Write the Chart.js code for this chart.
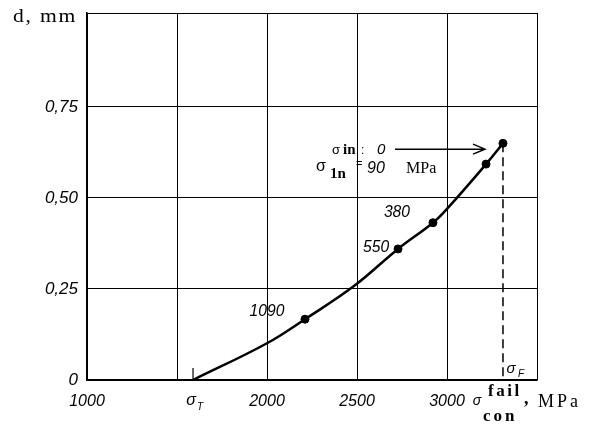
<!DOCTYPE html>
<html>
<head>
<meta charset="utf-8">
<script src="https://cdn.jsdelivr.net/npm/chart.js@4.4.1/dist/chart.umd.min.js"></script>
<style>
  html, body { margin: 0; padding: 0; background: #fff; }
</style>
</head>
<body>
<canvas id="chart" width="591" height="426"></canvas>
<script>
// curve d(sigma)
const curveStress = [1589, 2000, 2211, 2483, 2728, 2922, 3000, 3217, 3311];
const curveD = [0, 0.101, 0.167, 0.258, 0.36, 0.432, 0.47, 0.593, 0.650];

// measured points (dots) and their labels
const pointStress = [2211, 2728, 2922, 3217, 3311];
const pointD = [0.167, 0.36, 0.432, 0.593, 0.650];
const pointLabels = ['1090', '550', '380', '', ''];

// tick labels
const xTickLabels = { 1000: '1000', 2000: '2000', 2500: '2500', 3000: '3000' };
const yTickLabels = { 0: '0', 0.25: '0,25', 0.5: '0,50', 0.75: '0,75' };

const sigmaT = curveStress[0];
const sigmaF = pointStress[pointStress.length - 1];

const serif = '"Liberation Serif", "DejaVu Serif", serif';
const sans = '"Liberation Sans", "DejaVu Sans", sans-serif';

const curve = curveStress.map((x, i) => ({ x: x, y: curveD[i] }));
const dots = pointStress.map((x, i) => ({ x: x, y: pointD[i] }));

// text helper, sx stretches horizontally
function txt(ctx, s, x, y, font, align, sx, spacing) {
    ctx.save();
    ctx.font = font;
    ctx.textAlign = align || 'left';
    ctx.textBaseline = 'alphabetic';
    ctx.letterSpacing = (spacing || 0) + 'px';
    ctx.translate(x, y);
    ctx.scale(sx || 1, 1);
    ctx.fillText(s, 0, 0);
    ctx.restore();
}

// where the point labels sit (in data units)
const labelPos = [[2000, 0.191], [2606, 0.369], [2722, 0.464]];

const annotations = {
    id: 'annotations',
    afterDraw(chart) {
        const ctx = chart.ctx;
        const xs = chart.scales.x, ys = chart.scales.y;
        const X = v => xs.getPixelForValue(v);
        const Y = v => ys.getPixelForValue(v);
        ctx.save();
        ctx.fillStyle = '#000';
        ctx.strokeStyle = '#000';

        // y axis title
        txt(ctx, 'd, mm', 13, 22, '18px ' + serif, 'left', 1.2, 1.5);

        // sigma_T under the start of the curve
        txt(ctx, 'σ', X(sigmaT) - 2, 405, 'italic 16px ' + sans, 'center');
        txt(ctx, 'T', X(sigmaT) + 7, 410, 'italic 10px ' + sans, 'center');

        // sigma_F next to the dashed line
        txt(ctx, 'σ', X(sigmaF) + 8, 373, 'italic 15px ' + sans, 'center');
        txt(ctx, 'F', X(sigmaF) + 18, 377, 'italic 10px ' + sans, 'center');

        // x axis title
        txt(ctx, 'σ', xs.right - 60, 405, 'italic 14px ' + sans, 'center');
        txt(ctx, 'fail', xs.right - 49, 396, 'bold 17px ' + serif, 'left', 1, 2.5);
        txt(ctx, 'con', xs.right - 54, 421, 'bold 17px ' + serif, 'left', 1, 3);
        txt(ctx, ',', xs.right - 13, 404, 'bold 18px ' + serif, 'left');
        txt(ctx, 'MPa', xs.right + 1, 407, '18px ' + serif, 'left', 1, 3);

        // labels next to the points
        pointLabels.forEach((s, i) => {
            if (!s) return;
            const p = labelPos[i];
            txt(ctx, s, X(p[0]), Y(p[1]) + 6, 'italic 17px ' + sans, 'center', 0.92);
        });

        // sigma_in = 0 with arrow to the last point
        const ay = Y(0.634);
        txt(ctx, 'σ', 336, ay + 5, '13px ' + sans, 'center');
        txt(ctx, 'in', 343, ay + 5, 'bold 15px ' + serif, 'left');
        txt(ctx, ':', 361, ay + 5, '12px ' + sans, 'left');
        txt(ctx, '0', 377, ay + 5, 'italic 15px ' + sans, 'left');
        ctx.lineWidth = 1.5;
        ctx.beginPath();
        ctx.moveTo(X(2711), ay);
        ctx.lineTo(X(3211), ay);
        ctx.moveTo(X(3211) - 12, ay - 5);
        ctx.lineTo(X(3211), ay);
        ctx.lineTo(X(3211) - 12, ay + 5);
        ctx.stroke();

        // sigma_1n = 90 MPa
        const by = ay + 24;
        txt(ctx, 'σ', 321, by - 2, '16px ' + sans, 'center');
        txt(ctx, '1n', 330, by + 5, 'bold 15px ' + serif, 'left');
        txt(ctx, '=', 356, by - 6, '11px ' + sans, 'left');
        txt(ctx, '90', 367, by, 'italic 16px ' + sans, 'left');
        txt(ctx, 'MPa', 406, by, '16px ' + serif, 'left');

        ctx.restore();
    }
};

const ctx = document.getElementById('chart').getContext('2d');

new Chart(ctx, {
    type: 'scatter',
    data: {
        datasets: [
            {
                data: curve,
                showLine: true,
                borderColor: '#000',
                borderWidth: 2.5,
                pointRadius: 0,
                tension: 0.4
            },
            {
                data: dots,
                pointRadius: 4,
                backgroundColor: '#000',
                borderColor: '#000'
            },
            {
                // dashed drop line at sigma_F
                data: [{ x: sigmaF, y: pointD[pointD.length - 1] }, { x: sigmaF, y: 0 }],
                showLine: true,
                borderColor: '#000',
                borderWidth: 1.5,
                borderDash: [9, 5],
                pointRadius: 0
            },
            {
                // small tick at sigma_T
                data: [{ x: sigmaT, y: 0 }, { x: sigmaT, y: 0.033 }],
                showLine: true,
                borderColor: '#000',
                borderWidth: 1.2,
                pointRadius: 0
            }
        ]
    },
    options: {
        responsive: false,
        animation: false,
        layout: { padding: { top: 13, right: 54, left: 0, bottom: 0 } },
        plugins: { legend: { display: false }, tooltip: { enabled: false } },
        scales: {
            x: {
                type: 'linear',
                min: 1000,
                max: 3500,
                afterFit(s) { s.height = 46; s.paddingLeft = 0; s.paddingRight = 0; },
                ticks: {
                    stepSize: 500,
                    autoSkip: false,
                    maxRotation: 0,
                    padding: 12,
                    color: '#000',
                    font: { family: sans, style: 'italic', size: 16 },
                    callback: v => xTickLabels[v] || ''
                },
                grid: { color: '#000', lineWidth: 1, drawTicks: false },
                border: { color: '#000', width: 1.5 }
            },
            y: {
                min: 0,
                max: 1.008,
                afterFit(s) { s.width = 87; s.paddingTop = 0; s.paddingBottom = 0; },
                ticks: {
                    stepSize: 0.25,
                    padding: 9,
                    color: '#000',
                    font: { family: sans, style: 'italic', size: 17 },
                    callback: v => yTickLabels[v] || ''
                },
                grid: {
                    // the frame top is drawn by the max tick, hide the 1.0 line under it
                    color: c => (c.tick && c.tick.value === 1) ? 'rgba(0,0,0,0)' : '#000',
                    lineWidth: 1,
                    drawTicks: false
                },
                border: { color: '#000', width: 1.5 }
            }
        }
    },
    plugins: [annotations]
});
</script>
</body>
</html>
